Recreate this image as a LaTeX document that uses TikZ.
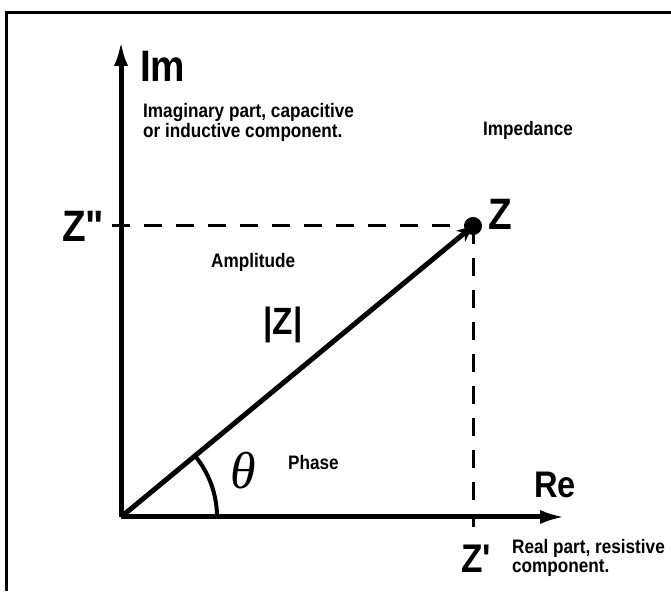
\documentclass[tikz,border=0pt]{standalone}
\usepackage{fontspec}
\setmainfont{Liberation Sans}
\newfontfamily\narrowsans[FakeStretch=0.88]{Liberation Sans}
\newfontfamily\greekserif{Liberation Serif}
\usepackage{tikz}
\usetikzlibrary{arrows.meta,positioning,calc}

\begin{document}
\begin{tikzpicture}[
  x=1pt, y=1pt,
  axis/.style={line width=5pt, -{Latex[length=26pt,width=14pt]}},
  vec/.style={line width=5pt, -{Stealth[length=16pt,width=14pt]}},
  guide/.style={line width=3pt, dash pattern=on 18pt off 14pt},
  txt/.style={font=\narrowsans\bfseries\fontsize{19.5}{20}\selectfont, align=left, inner sep=0pt},
  big/.style={font=\narrowsans\bfseries\fontsize{44}{44}\selectfont, inner sep=0pt},
  >=Stealth]
  \useasboundingbox (0,0) rectangle (671,591);
  % frame (only top and left edges show)
  \draw[line width=3pt] (6,0) -- (6,578) -- (671,578);

  \coordinate (o) at (121,74);
  \coordinate (imtip) at (121,551);
  \coordinate (retip) at (566,74);
  \coordinate (z) at (473,365);
  \coordinate (zy) at (112,365);
  \coordinate (zx) at (473,64);

  % axes
  \draw[axis] (o) -- (imtip);
  \draw[axis] (o) -- (retip);

  % projections
  \draw[guide] (zy) -- (z);
  \draw[guide] (z) -- (zx);

  % impedance vector
  \draw[vec] (o) -- (z);
  \fill (z) circle (9pt);

  % phase angle
  \draw[line width=4pt] ($(o)+(96,0)$) arc[start angle=0, end angle=39.3, radius=96];

  % labels
  \node[big, anchor=west] (im) at (140,525) {Im};
  \node[txt, anchor=north west] (imtxt) at (143,488) {Imaginary part, capacitive\\or inductive component.};
  \node[txt, anchor=west] (imp) at (483,461) {Impedance};
  \node[big, anchor=east] (zpp) at (107,365) {Z\textquotedbl};
  \node[big, anchor=west] (zlbl) at (488,377) {Z};
  \node[txt, anchor=west] (amp) at (211,329) {Amplitude};
  \node[big, font=\narrowsans\bfseries\fontsize{38}{38}\selectfont] (mod) at (283,266) {|Z|};
  \node[font=\greekserif\itshape\fontsize{52}{52}\selectfont, inner sep=0pt] (th) at (243,120) {θ};
  \node[txt, anchor=west] (ph) at (288,128) {Phase};
  \node[big, font=\narrowsans\bfseries\fontsize{37}{37}\selectfont, anchor=base west] (re) at (534,93) {Re};
  \node[big, font=\narrowsans\bfseries\fontsize{40}{40}\selectfont, anchor=base] (zp) at (476,19) {Z'};
  \node[txt, font=\narrowsans\bfseries\fontsize{19.5}{19}\selectfont, anchor=north west] (retxt) at (512,52) {Real part, resistive\\component.};
\end{tikzpicture}
\end{document}
